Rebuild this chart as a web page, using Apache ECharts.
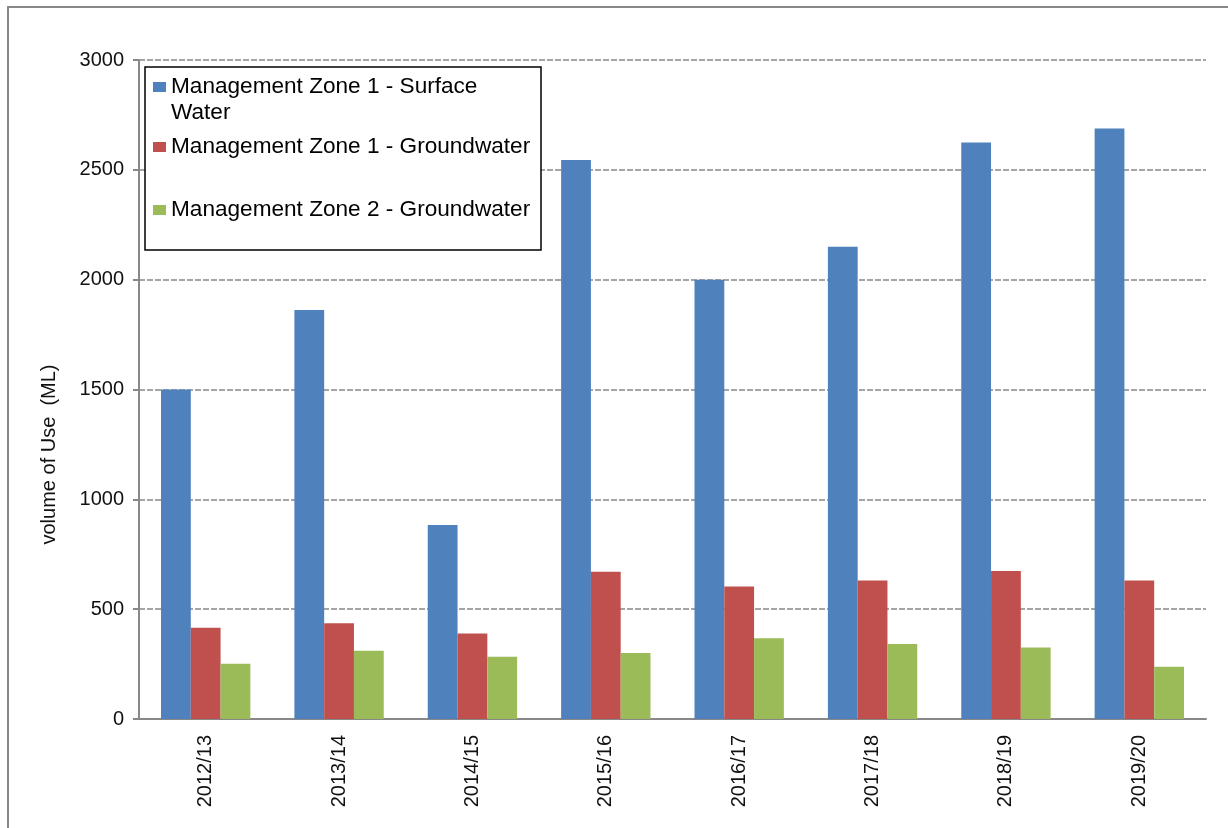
<!DOCTYPE html>
<html>
<head>
    <meta charset="utf-8">
    <title>volume of Use</title>
    <style>
        html, body { margin: 0; padding: 0; background: #fff; }
        #main { width: 1228px; height: 828px; }
    </style>
</head>
<body>
<div id="main"></div>
<script src="https://cdn.jsdelivr.net/npm/echarts@6/dist/echarts.min.js"></script>
<script>
    // years on the x axis
    var years = ['2012/13', '2013/14', '2014/15', '2015/16', '2016/17', '2017/18', '2018/19', '2019/20'];
    // ML used per year
    var zone1Surface = [1500, 1862, 883, 2545, 2000, 2150, 2625, 2688];
    var zone1Ground = [415, 436, 389, 670, 603, 631, 674, 631];
    var zone2Ground = [252, 311, 283, 300, 368, 341, 326, 238];
    var yTicks = [0, 500, 1000, 1500, 2000, 2500, 3000];

    var names = ['Management Zone 1 - Surface Water', 'Management Zone 1 - Groundwater', 'Management Zone 2 - Groundwater'];
    var font = '"Liberation Sans", Arial, sans-serif';

    function legendAt(name, top, fmt) {
        return {
            data: [name],
            left: 153,
            top: top,
            padding: 0,
            itemWidth: 13,
            itemHeight: 10,
            icon: 'rect',
            selectedMode: false,
            formatter: fmt || '{name}',
            textStyle: {fontFamily: font, fontSize: 22.6, color: '#000', lineHeight: 26}
        };
    }

    var chart = echarts.init(document.getElementById('main'));
    var option = {
        backgroundColor: '#fff',
        animation: false,
        color: ['#4F81BD', '#C0504D', '#9BBB59'],
        grid: {left: 139, right: 22, top: 60, bottom: 109},
        legend: [
            // blank first line keeps the icon beside "Management ..." rather than between the two lines
            legendAt(names[0], 48, function () { return '\nManagement Zone 1 - Surface\nWater'; }),
            legendAt(names[1], 134),
            legendAt(names[2], 197)
        ],
        graphic: [
            {
                type: 'rect', z: 0, silent: true,
                shape: {x: 8, y: 7, width: 1300, height: 900},
                style: {fill: 'none', stroke: '#888', lineWidth: 2}
            },
            {
                type: 'rect', z: 3, silent: true,
                shape: {x: 145, y: 67, width: 396, height: 183},
                style: {fill: '#fff', stroke: '#000', lineWidth: 1.5}
            }
        ],
        xAxis: {
            type: 'category',
            data: years,
            axisLine: {lineStyle: {color: '#888', width: 2}},
            axisTick: {length: 6, lineStyle: {color: '#888', width: 2}},
            axisLabel: {rotate: 90, margin: 16, fontFamily: font, fontSize: 20, color: '#111'}
        },
        yAxis: {
            type: 'value',
            min: yTicks[0],
            max: yTicks[yTicks.length - 1],
            interval: yTicks[1] - yTicks[0],
            name: 'volume of Use  (ML)',
            nameLocation: 'middle',
            nameGap: 80,
            nameTextStyle: {fontFamily: font, fontSize: 20, color: '#111', padding: [0, 130, 0, 0]},
            axisLine: {show: true, lineStyle: {color: '#888', width: 2}},
            axisTick: {show: true, length: 6, lineStyle: {color: '#888', width: 2}},
            axisLabel: {
                margin: 15, fontFamily: font, fontSize: 20, color: '#111',
                formatter: function (v) { return String(v); }
            },
            splitLine: {lineStyle: {color: '#888', width: 1.5, type: [6, 2]}}
        },
        series: [
            {name: names[0], type: 'bar', data: zone1Surface, barGap: '0%', barCategoryGap: '33%'},
            {name: names[1], type: 'bar', data: zone1Ground, barGap: '0%', barCategoryGap: '33%'},
            {name: names[2], type: 'bar', data: zone2Ground, barGap: '0%', barCategoryGap: '33%'}
        ]
    };
    chart.setOption(option);
</script>
</body>
</html>
